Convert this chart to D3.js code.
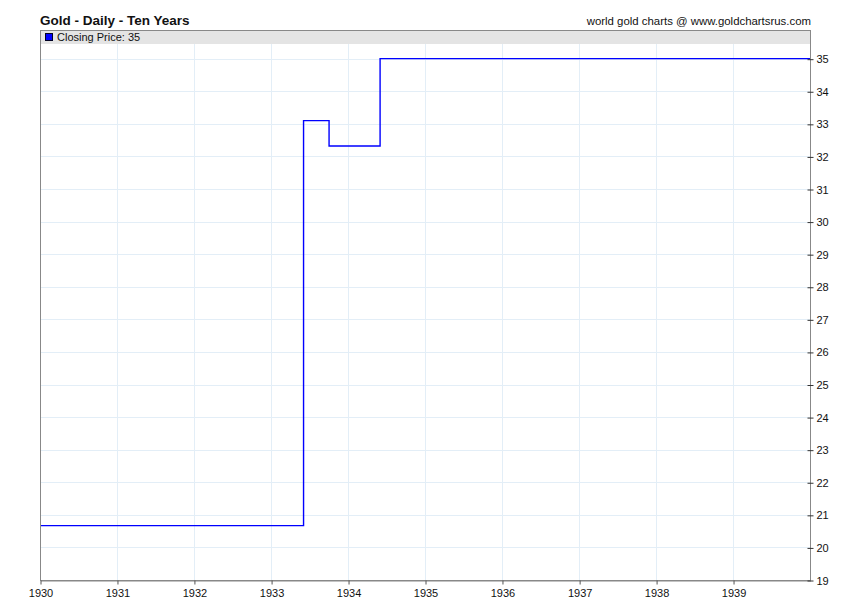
<!DOCTYPE html>
<html>
<head>
<meta charset="utf-8">
<script src="https://cdn.jsdelivr.net/npm/d3@7"></script>
<style>
  body { margin: 0; background: #fff; }
  text { font-family: "Liberation Sans", Arial, sans-serif; }
</style>
</head>
<body>
<div id="chart"></div>
<script>
// step series: date the price changed, new closing price
const changeDates = ['1930-01-01', '1933-06-04', '1933-10-03', '1934-06-02', '1940-01-01'];
const closePrices = [20.67, 33.1, 32.32, 35, 35];
const yearTicks = [1930, 1931, 1932, 1933, 1934, 1935, 1936, 1937, 1938, 1939];
const priceTicks = [19, 20, 21, 22, 23, 24, 25, 26, 27, 28, 29, 30, 31, 32, 33, 34, 35];

const width = 850;
const height = 616;
const margin = { top: 30, right: 40, bottom: 36, left: 40 };
const plotW = width - margin.left - margin.right;
const plotH = height - margin.top - margin.bottom;

const parseDate = d3.timeParse('%Y-%m-%d');
const data = changeDates.map((d, i) => ({ date: parseDate(d), price: closePrices[i] }));

const svg = d3.select('#chart')
    .append('svg')
    .attr('width', width)
    .attr('height', height);

const x = d3.scaleTime()
    .domain([new Date(1930, 0, 1), new Date(1940, 0, 1)])
    .range([margin.left, margin.left + plotW]);

// 19 sits on the bottom edge, 35 ~28px below the top
const y = d3.scaleLinear()
    .domain([19, 35.88])
    .range([margin.top + plotH, margin.top]);

// title + credit
svg.append('text')
    .attr('x', 40)
    .attr('y', 25)
    .style('font-size', '13.5px')
    .style('font-weight', 'bold')
    .attr('fill', '#111')
    .text('Gold - Daily - Ten Years');

svg.append('text')
    .attr('x', 811)
    .attr('y', 25)
    .attr('text-anchor', 'end')
    .style('font-size', '11.4px')
    .attr('fill', '#111')
    .text('world gold charts @ www.goldchartsrus.com');

// grid
const grid = svg.append('g');
grid.selectAll('.vgrid')
    .data(yearTicks)
    .enter()
    .append('line')
    .attr('x1', d => Math.round(x(new Date(d, 0, 1))) + 0.5)
    .attr('x2', d => Math.round(x(new Date(d, 0, 1))) + 0.5)
    .attr('y1', margin.top)
    .attr('y2', margin.top + plotH)
    .attr('stroke', '#e3eef7');

grid.selectAll('.hgrid')
    .data(priceTicks)
    .enter()
    .append('line')
    .attr('x1', margin.left)
    .attr('x2', margin.left + plotW)
    .attr('y1', d => Math.round(y(d)) + 0.5)
    .attr('y2', d => Math.round(y(d)) + 0.5)
    .attr('stroke', '#e3eef7');

// legend band
svg.append('rect')
    .attr('x', margin.left)
    .attr('y', margin.top)
    .attr('width', plotW)
    .attr('height', 14)
    .attr('fill', '#e4e4e4');

svg.append('rect')
    .attr('x', 45.5)
    .attr('y', 33.5)
    .attr('width', 7)
    .attr('height', 7)
    .attr('fill', '#0000ff')
    .attr('stroke', '#000022');

svg.append('text')
    .attr('x', 57)
    .attr('y', 41)
    .style('font-size', '11px')
    .attr('fill', '#111')
    .text('Closing Price: ' + closePrices[closePrices.length - 1]);

// price line
const line = d3.line()
    .x(d => x(d.date))
    .y(d => y(d.price))
    .curve(d3.curveStepAfter);

svg.append('path')
    .datum(data)
    .attr('d', line)
    .attr('fill', 'none')
    .attr('stroke', '#0000ff')
    .attr('stroke-width', 1.4);

// frame
svg.append('rect')
    .attr('x', margin.left + 0.5)
    .attr('y', margin.top + 0.5)
    .attr('width', plotW)
    .attr('height', plotH)
    .attr('fill', 'none')
    .attr('stroke', '#888');

// axes
const xAxis = d3.axisBottom(x)
    .tickValues(yearTicks.map(d => new Date(d, 0, 1)))
    .tickFormat(d3.timeFormat('%Y'))
    .tickSize(4)
    .tickSizeOuter(0);

const xg = svg.append('g')
    .attr('transform', `translate(0.5,${margin.top + plotH + 0.5})`)
    .call(xAxis);
xg.select('.domain').attr('stroke', '#888');
xg.selectAll('.tick line').attr('stroke', '#555');
xg.selectAll('text')
    .style('font-size', '11px')
    .style('font-family', '"Liberation Sans", Arial, sans-serif')
    .attr('fill', '#111')
    .attr('dy', '0.9em');

const yAxis = d3.axisRight(y)
    .tickValues(priceTicks)
    .tickSize(3)
    .tickSizeOuter(0);

const yg = svg.append('g')
    .attr('transform', `translate(${margin.left + plotW + 0.5},0.5)`)
    .call(yAxis);
yg.select('.domain').remove();
yg.selectAll('.tick line')
    .attr('x1', -3)
    .attr('x2', 3)
    .attr('stroke', '#333');
yg.selectAll('text')
    .attr('x', 6)
    .style('font-size', '11px')
    .style('font-family', '"Liberation Sans", Arial, sans-serif')
    .attr('fill', '#111');
</script>
</body>
</html>
